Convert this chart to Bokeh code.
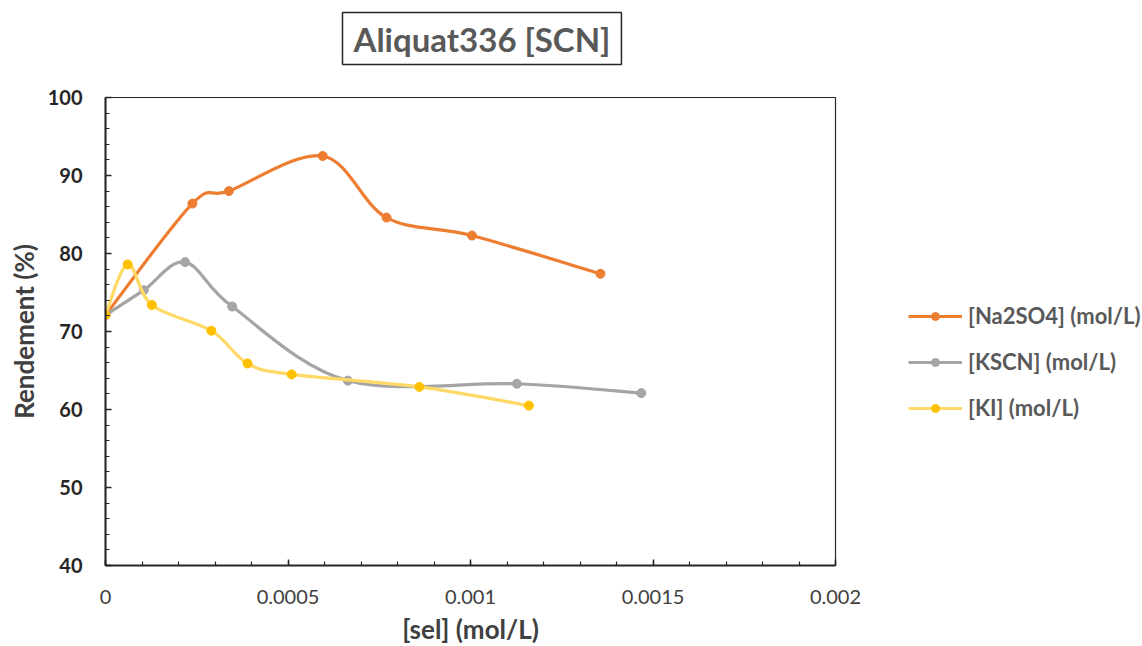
from bokeh.plotting import figure
from bokeh.models import (Range1d, FixedTicker, Legend, LegendItem, Title, ColumnDataSource)
from bokeh.embed import file_html
from bokeh.resources import INLINE

# ---- data ----
na2so4_x = [0, 0.000238, 0.000338, 0.000595, 0.00077, 0.001004, 0.001356]
na2so4_y = [72.1, 86.4, 88.0, 92.5, 84.6, 82.3, 77.4]
kscn_x = [0, 0.000105, 0.000218, 0.000347, 0.000664, 0.001127, 0.001468]
kscn_y = [72.1, 75.3, 78.9, 73.2, 63.7, 63.3, 62.1]
ki_x = [0, 0.0000608, 0.000127, 0.00029, 0.000389, 0.00051, 0.00086, 0.00116]
ki_y = [72.1, 78.6, 73.4, 70.1, 65.9, 64.5, 62.9, 60.5]
series_names = ["[Na2SO4] (mol/L)", "[KSCN] (mol/L)", "[KI] (mol/L)"]
x_ticks = [0, 0.0005, 0.001, 0.0015, 0.002]
x_tick_labels = ["0", "0.0005", "0.001", "0.0015", "0.002"]
y_ticks = [40, 50, 60, 70, 80, 90, 100]

FONT = "Lato"

p = figure(frame_width=730, frame_height=468,
           min_border_left=105, min_border_right=300, min_border_top=97, min_border_bottom=80,
           x_range=Range1d(0, 0.002), y_range=Range1d(40, 100),
           output_backend="svg", toolbar_location=None)
p.xgrid.visible = False
p.ygrid.visible = False
p.outline_line_color = "#262626"
p.outline_line_width = 1.2
p.background_fill_color = "white"
p.border_fill_color = "white"

# spacer between frame and the boxed title
spacer = Title(text=" ", text_font_size="1px", standoff=16)
p.add_layout(spacer, "above")

title = Title(text="Aliquat336 [SCN]", align="left", vertical_align="top", text_font=FONT,
              text_font_size="33px", text_font_style="bold", text_color="#595959",
              border_line_color="#262626", border_line_width=1.5,
              background_fill_color="white", padding=(11, 6), standoff=24, offset=237)
p.add_layout(title, "above")


def smooth_segments(xs, ys):
    n = len(xs)
    x0, y0, x1, y1, cx0, cy0, cx1, cy1 = [], [], [], [], [], [], [], []
    for i in range(n - 1):
        pm = max(i - 1, 0)
        pp = min(i + 2, n - 1)
        x0.append(xs[i]); y0.append(ys[i])
        x1.append(xs[i + 1]); y1.append(ys[i + 1])
        cx0.append(xs[i] + (xs[i + 1] - xs[pm]) / 6.0)
        cy0.append(ys[i] + (ys[i + 1] - ys[pm]) / 6.0)
        cx1.append(xs[i + 1] - (xs[pp] - xs[i]) / 6.0)
        cy1.append(ys[i + 1] - (ys[pp] - ys[i]) / 6.0)
    return ColumnDataSource(dict(x0=x0, y0=y0, x1=x1, y1=y1, cx0=cx0, cy0=cy0, cx1=cx1, cy1=cy1))


series = [
    (na2so4_x, na2so4_y, "#ED7D31", "#ED7D31"),
    (kscn_x, kscn_y, "#A5A5A5", "#A5A5A5"),
    (ki_x, ki_y, "#FFD966", "#FFC000"),
]
items = []
for (xs, ys, lc, mc), name in zip(series, series_names):
    src = smooth_segments(xs, ys)
    b = p.bezier(x0="x0", y0="y0", x1="x1", y1="y1", cx0="cx0", cy0="cy0", cx1="cx1", cy1="cy1",
                 source=src, line_color=lc, line_width=3.2)
    s = p.scatter(xs, ys, size=9, fill_color=mc, line_color=mc)
    items.append(LegendItem(label=name, renderers=[b, s]))

legend = Legend(items=items, location=(73, 144), border_line_color=None,
                background_fill_alpha=0, label_text_font=FONT, label_text_font_size="22px",
                label_text_font_style="bold", label_text_color="#595959",
                glyph_width=54, glyph_height=20, label_height=20, spacing=19,
                margin=0, padding=0, label_standoff=6)
p.add_layout(legend, "right")

# axes
p.xaxis.ticker = FixedTicker(ticks=x_ticks, minor_ticks=[i * 0.0001 for i in range(21)])
p.xaxis.major_label_overrides = {t: l for t, l in zip(x_ticks, x_tick_labels)}
p.yaxis.ticker = FixedTicker(ticks=y_ticks, minor_ticks=list(range(40, 101, 2)))

for ax in (p.xaxis[0], p.yaxis[0]):
    ax.axis_line_color = "#262626"
    ax.axis_line_width = 2
    ax.major_tick_line_color = "#262626"
    ax.minor_tick_line_color = "#262626"
    ax.major_tick_line_width = 1.5
    ax.minor_tick_line_width = 1.2
    ax.major_tick_in = 6
    ax.major_tick_out = 0
    ax.minor_tick_in = 4
    ax.minor_tick_out = 0
    ax.axis_label_text_font = FONT
    ax.axis_label_text_font_style = "bold"
    ax.axis_label_text_color = "#404040"
    ax.major_label_text_font = FONT

p.xaxis.axis_label = "[sel] (mol/L)"
p.xaxis.axis_label_text_font_size = "26px"
p.xaxis.major_label_text_font_size = "20px"
p.xaxis.major_label_text_color = "#404040"
p.xaxis.major_label_standoff = 24
p.xaxis.axis_label_standoff = 6

p.yaxis.axis_label = "Rendement (%)"
p.yaxis.axis_label_text_font_size = "26px"
p.yaxis.major_label_text_font_size = "20px"
p.yaxis.major_label_text_font_style = "bold"
p.yaxis.major_label_text_color = "#262626"
p.yaxis.major_label_standoff = 23
p.yaxis.axis_label_standoff = 5

open("out.html", "w").write(file_html(p, INLINE))
